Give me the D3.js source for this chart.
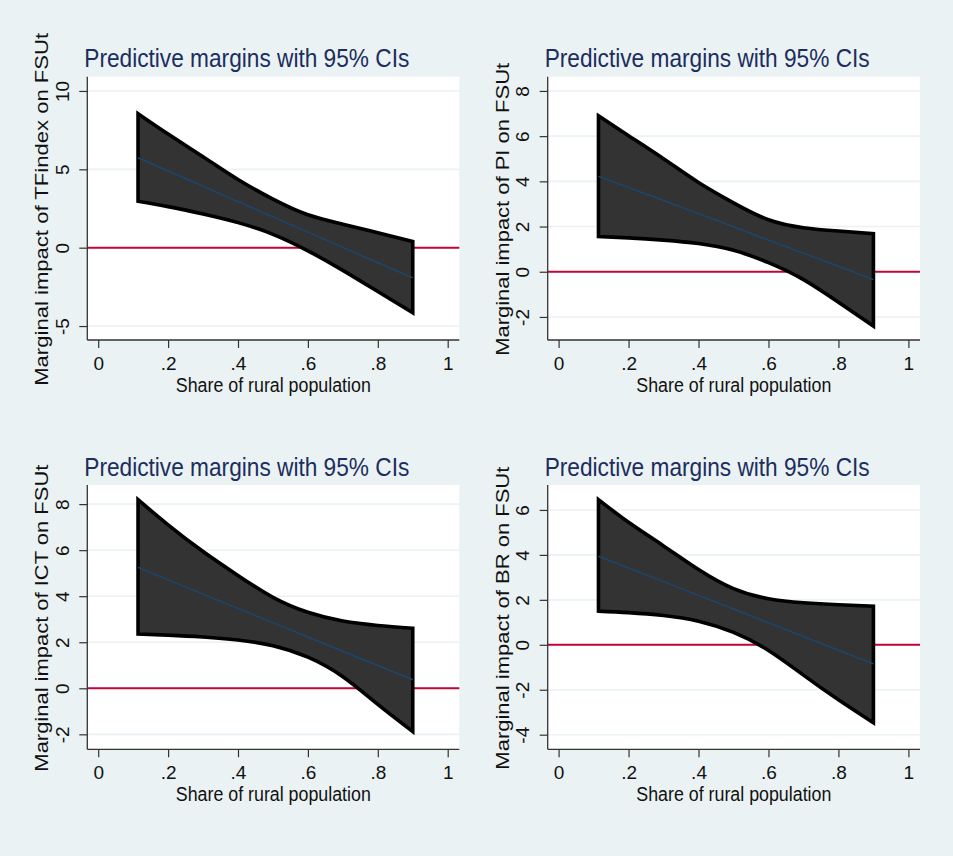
<!DOCTYPE html>
<html>
<head>
<meta charset="utf-8">
<script src="https://cdn.jsdelivr.net/npm/d3@7"></script>
<style>
  html, body { margin: 0; padding: 0; background: #eaf2f3; }
  svg { display: block; }
  text { font-family: "Liberation Sans", Arial, sans-serif; fill: #111; }
</style>
</head>
<body>
<svg id="chart" width="953" height="856"></svg>
<script>
// values
var xPoints = [0.114, 0.2, 0.3, 0.4, 0.5, 0.6, 0.7, 0.8, 0.9];
var xTicks = [0, 0.2, 0.4, 0.6, 0.8, 1];
var xTickLabels = ['0', '.2', '.4', '.6', '.8', '1'];

var tfHi  = [8.55, 7.25, 5.8, 4.35, 3.1, 2.1, 1.5, 0.95, 0.4];
var tfMid = [5.74, 4.89, 3.92, 2.94, 1.97, 0.99, 0.02, -0.96, -1.93];
var tfLo  = [2.96, 2.62, 2.15, 1.6, 0.85, -0.2, -1.45, -2.8, -4.15];
var tfTicks = [-5, 0, 5, 10];

var piHi  = [6.9, 6.02, 5.0, 3.95, 3.05, 2.3, 1.95, 1.8, 1.68];
var piMid = [4.22, 3.73, 3.15, 2.57, 1.99, 1.40, 0.82, 0.24, -0.35];
var piLo  = [1.56, 1.5, 1.4, 1.25, 0.95, 0.4, -0.35, -1.35, -2.4];
var piTicks = [-2, 0, 2, 4, 6, 8];

var ictHi  = [8.19, 7.1, 5.94, 4.9, 3.95, 3.3, 2.92, 2.73, 2.61];
var ictMid = [5.25, 4.71, 4.09, 3.47, 2.85, 2.23, 1.61, 0.99, 0.37];
var ictLo  = [2.36, 2.31, 2.23, 2.1, 1.85, 1.35, 0.5, -0.7, -1.88];
var ictTicks = [-2, 0, 2, 4, 6, 8];

var brHi  = [6.46, 5.45, 4.4, 3.35, 2.5, 2.05, 1.87, 1.78, 1.72];
var brMid = [3.94, 3.42, 2.81, 2.20, 1.59, 0.98, 0.37, -0.24, -0.85];
var brLo  = [1.50, 1.43, 1.3, 1.05, 0.55, -0.25, -1.35, -2.45, -3.47];
var brTicks = [-4, -2, 0, 2, 4, 6];

var titleText = 'Predictive margins with 95% CIs';
var xTitle = 'Share of rural population';

// panel layout: plot region box and y range (value at top / bottom edge)
var panels = [
  {left: 87.3,  right: 459.3, top: 76.7, bottom: 340,   yTop: 10.91, yBot: -5.89,
   hi: tfHi, mid: tfMid, lo: tfLo, ticks: tfTicks, ytitle: 'Marginal impact of TFindex on FSUt', ytLen: 353},
  {left: 547.7, right: 920,   top: 76.7, bottom: 340,   yTop: 8.63,  yBot: -3.02,
   hi: piHi, mid: piMid, lo: piLo, ticks: piTicks, ytitle: 'Marginal impact of PI on FSUt', ytLen: 293},
  {left: 87.3,  right: 459.3, top: 485,  bottom: 749.3, yTop: 8.83,  yBot: -2.65,
   hi: ictHi, mid: ictMid, lo: ictLo, ticks: ictTicks, ytitle: 'Marginal impact of ICT on FSUt', ytLen: 307},
  {left: 547.7, right: 920,   top: 485,  bottom: 749.3, yTop: 7.11,  yBot: -4.65,
   hi: brHi, mid: brMid, lo: brLo, ticks: brTicks, ytitle: 'Marginal impact of BR on FSUt', ytLen: 303}
];

var svg = d3.select('#chart');

svg.append('rect')
  .attr('width', 953).attr('height', 856)
  .attr('fill', '#eaf2f3');

panels.forEach(function(p){

  var x = d3.scaleLinear().domain([0, 1]).range([p.left + 10.9, p.right - 11.6]);
  var y = d3.scaleLinear().domain([p.yBot, p.yTop]).range([p.bottom, p.top]);
  var g = svg.append('g');

  // plot region
  g.append('rect')
    .attr('x', p.left).attr('y', p.top)
    .attr('width', p.right - p.left).attr('height', p.bottom - p.top)
    .attr('fill', '#ffffff');

  // grid
  g.selectAll('line.grid')
    .data(p.ticks)
    .enter().append('line')
    .classed('grid', true)
    .attr('x1', p.left).attr('x2', p.right)
    .attr('y1', function(d){ return y(d); })
    .attr('y2', function(d){ return y(d); })
    .attr('stroke', '#eaf2f3')
    .attr('stroke-width', 1.6);

  // reference line at zero
  g.append('line')
    .attr('x1', p.left).attr('x2', p.right)
    .attr('y1', y(0)).attr('y2', y(0))
    .attr('stroke', '#c10534')
    .attr('stroke-width', 2);

  // confidence band
  var pts = xPoints.map(function(v, i){
    return {x: v, lo: p.lo[i], hi: p.hi[i], mid: p.mid[i]};
  });

  var area = d3.area()
    .curve(d3.curveNatural)
    .x(function(d){ return x(d.x); })
    .y0(function(d){ return y(d.lo); })
    .y1(function(d){ return y(d.hi); });

  g.append('path')
    .datum(pts)
    .attr('d', area)
    .attr('fill', '#333333')
    .attr('stroke', '#000000')
    .attr('stroke-width', 3.6)
    .attr('stroke-linejoin', 'miter');

  var line = d3.line()
    .x(function(d){ return x(d.x); })
    .y(function(d){ return y(d.mid); });

  g.append('path')
    .datum(pts)
    .attr('d', line)
    .attr('fill', 'none')
    .attr('stroke', '#1a476f')
    .attr('stroke-width', 1.5);

  // y axis
  var yAxis = d3.axisLeft(y)
    .tickValues(p.ticks)
    .tickSize(8)
    .tickPadding(0)
    .tickFormat(function(d){ return d < 0 ? '-' + Math.abs(d) : String(d); });

  var ya = g.append('g')
    .attr('transform', 'translate(' + p.left + ',0)')
    .call(yAxis);
  ya.select('.domain').attr('d', 'M0,' + p.top + 'V' + p.bottom).attr('stroke', '#333').attr('stroke-width', 1.3);
  ya.selectAll('.tick line').attr('stroke', '#333').attr('stroke-width', 1.2);
  ya.selectAll('.tick text')
    .attr('x', 0).attr('dy', null)
    .attr('transform', 'translate(-25,0) rotate(-90)')
    .attr('text-anchor', 'middle')
    .attr('dominant-baseline', 'central')
    .style('font-size', '19px')
    .style('font-family', '"Liberation Sans", Arial, sans-serif')
    .attr('fill', '#111');

  // x axis
  var xAxis = d3.axisBottom(x)
    .tickValues(xTicks)
    .tickSize(8)
    .tickPadding(5)
    .tickFormat(function(d, i){ return xTickLabels[i]; });

  var xa = g.append('g')
    .attr('transform', 'translate(0,' + p.bottom + ')')
    .call(xAxis);
  xa.select('.domain').attr('d', 'M' + p.left + ',0H' + p.right).attr('stroke', '#333').attr('stroke-width', 1.3);
  xa.selectAll('.tick line').attr('stroke', '#333').attr('stroke-width', 1.2);
  xa.selectAll('.tick text')
    .attr('y', 23).attr('dy', null)
    .attr('dominant-baseline', 'central')
    .style('font-size', '19px')
    .style('font-family', '"Liberation Sans", Arial, sans-serif')
    .attr('fill', '#111');

  // titles
  g.append('text')
    .attr('x', p.left - 3).attr('y', p.top - 9.4)
    .attr('textLength', 325)
    .attr('lengthAdjust', 'spacingAndGlyphs')
    .style('font-size', '26px')
    .attr('fill', '#1c2d5e')
    .style('fill', '#1c2d5e')
    .text(titleText);

  g.append('text')
    .attr('x', (p.left + p.right) / 2).attr('y', p.bottom + 45)
    .attr('text-anchor', 'middle')
    .attr('dominant-baseline', 'central')
    .attr('textLength', 195)
    .attr('lengthAdjust', 'spacingAndGlyphs')
    .style('font-size', '19.5px')
    .text(xTitle);

  g.append('text')
    .attr('transform', 'translate(' + (p.left - 45.6) + ',' + ((p.top + p.bottom) / 2 + 1) + ') rotate(-90)')
    .attr('text-anchor', 'middle')
    .attr('dominant-baseline', 'central')
    .attr('textLength', p.ytLen)
    .attr('lengthAdjust', 'spacingAndGlyphs')
    .style('font-size', '18.5px')
    .text(p.ytitle);
});
</script>
</body>
</html>
